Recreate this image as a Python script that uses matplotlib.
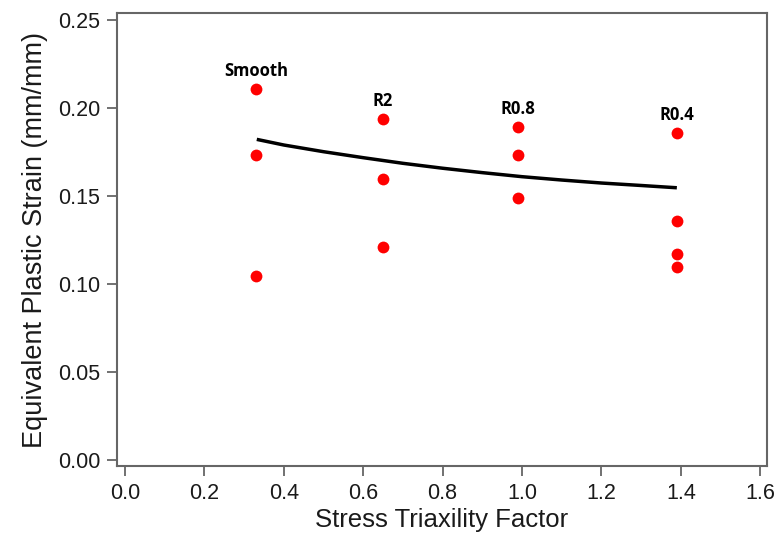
"""Equivalent plastic strain vs. stress triaxility for notched specimens."""

import matplotlib.pyplot as plt

plt.rcParams["font.family"] = ["Liberation Sans", "DejaVu Sans"]

# specimen groups
groups = ["Smooth", "R2", "R0.8", "R0.4"]
group_triax = [0.33, 0.649, 0.989, 1.39]
group_strains = [
    [0.2106, 0.1733, 0.1045],
    [0.1936, 0.1598, 0.1212],
    [0.189, 0.1731, 0.149],
    [0.1856, 0.1358, 0.117, 0.1098],
]

# fitted trend curve
fit_triax = [0.332, 0.4, 0.5, 0.6, 0.7, 0.8, 0.9, 1.0, 1.1, 1.2, 1.3, 1.39]
fit_strain = [0.1822, 0.1790, 0.1752, 0.1718, 0.1686, 0.1658,
              0.1633, 0.1610, 0.1591, 0.1574, 0.1560, 0.1547]

x_ticks = [0.0, 0.2, 0.4, 0.6, 0.8, 1.0, 1.2, 1.4, 1.6]
y_ticks = [0.00, 0.05, 0.10, 0.15, 0.20, 0.25]

fig = plt.figure(figsize=(7.77, 5.42), dpi=100)
ax = fig.add_axes([0.1506, 0.1402, 0.8365, 0.8358])

ax.plot(fit_triax, fit_strain, color="black", linewidth=2.5, zorder=2,
        solid_capstyle="butt", solid_joinstyle="round")

for name, x, strains in zip(groups, group_triax, group_strains):
    ax.plot([x] * len(strains), strains, "o", color="#ff0000", markersize=8.5,
            markeredgewidth=0, zorder=3)
    ax.annotate(name, (x, max(strains)), xytext=(0, 7), textcoords="offset points",
                ha="center", va="bottom", fontsize=12, fontweight="bold",
                family=["Open Sans", "DejaVu Sans"])

ax.set_xlim(-0.02, 1.617)
ax.set_ylim(-0.0034, 0.254)
ax.set_xticks(x_ticks)
ax.set_xticklabels([f"{v:.1f}" for v in x_ticks])
ax.set_yticks(y_ticks)
ax.set_yticklabels([f"{v:.2f}" for v in y_ticks])

for spine in ax.spines.values():
    spine.set_color("#666666")
    spine.set_linewidth(1.5)
ax.tick_params(direction="out", length=7, width=1.3, color="#666666",
               labelsize=15.5, labelcolor="#1a1a1a", pad=5)

ax.set_xlabel("Stress Triaxility Factor", fontsize=18.5, color="#1a1a1a", labelpad=3)
ax.set_ylabel("Equivalent Plastic Strain (mm/mm)", fontsize=19.5, color="#1a1a1a", labelpad=7)

fig.savefig("out.png", dpi=100)
